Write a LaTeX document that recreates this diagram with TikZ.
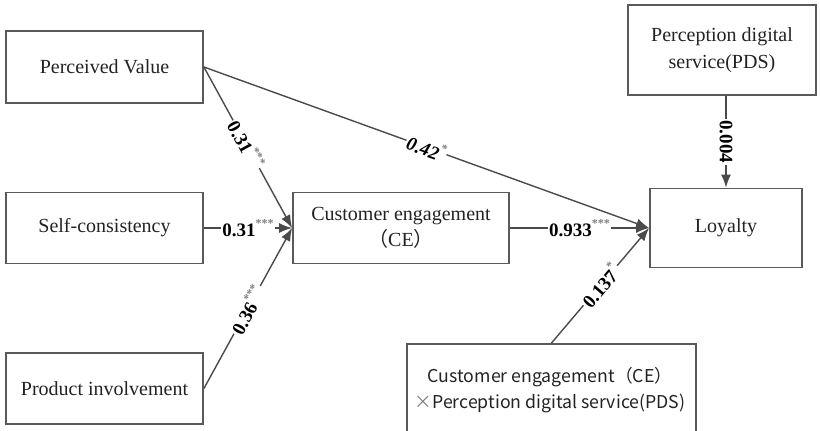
\documentclass[tikz,border=0pt]{standalone}
\usepackage{fontspec}
\setmainfont{Liberation Serif}
\newfontfamily\cjk{Noto Sans CJK SC}
\usetikzlibrary{arrows.meta}
\definecolor{boxline}{HTML}{5A5A5A}
\definecolor{arrline}{HTML}{4A4A4A}
\definecolor{txt}{HTML}{222222}
\newcommand\starsup[1]{\raisebox{0.5em}{\color{gray}\fontsize{12}{12}\selectfont #1}}
\tikzset{
  x=1pt,y=-1pt,
  box/.style={draw=boxline, line width=1.8pt, text=txt, align=center, inner sep=0pt,
    font=\fontsize{20}{27}\selectfont},
  arr/.style={draw=arrline, line width=1.4pt, -{Latex[length=13pt,width=10pt]}},
  lab/.style={fill=white, inner sep=1.5pt, text=black, font=\fontsize{19}{19}\selectfont\bfseries},
}
\begin{document}
\begin{tikzpicture}
\useasboundingbox (0,0) rectangle (820,431);
% boxes
\node[box, minimum width=197, minimum height=72] (pv) at (104.5,67) {Perceived Value};
\node[box, minimum width=197, minimum height=71] (sc) at (104.5,228) {Self-consistency};
\node[box, minimum width=197, minimum height=71] (pi) at (104.5,388.5) {Product involvement};
\node[box, minimum width=216, minimum height=71] (ce) at (401,228) {Customer engagement\\[-1pt]{\cjk （}CE{\cjk ）}};
\node[box, minimum width=152, minimum height=79] (loy) at (726,228) {Loyalty};
\node[box, minimum width=188, minimum height=90] (pds) at (722,50) {Perception digital\\service(PDS)};
\node[box, minimum width=289, minimum height=110, anchor=north] (int) at (551.5,343) {};
\node[text=txt, align=center, font=\cjk\fontsize{17.7}{26}\selectfont] (inttext) at (550,390) {Customer engagement（CE）\\{\color{gray}×}Perception digital service(PDS)};
% connectors
\draw[arr] (pv.east) -- node[lab, sloped, pos=0.48] {0.31\starsup{***}} (ce.west);
\draw[arr] (pv.east) -- node[lab, sloped, pos=0.5] {\itshape 0.42\starsup{*}} (loy.west);
\draw[arr] (sc.east) -- node[lab, pos=0.5] {0.31\starsup{***}} (ce.west);
\draw[arr] (pi.east) -- node[lab, sloped, pos=0.49] {0.36\starsup{***}} (ce.west);
\draw[arr] (ce.east) -- node[lab, pos=0.5] {0.933\starsup{***}} (loy.west);
\draw[arr] (int.north) -- node[lab, sloped, pos=0.5] {0.137\starsup{*}} (loy.west);
\draw[arr] (loy.north |- pds.south) -- node[lab, rotate=-90, pos=0.5] {0.004} (loy.north);
\end{tikzpicture}
\end{document}
